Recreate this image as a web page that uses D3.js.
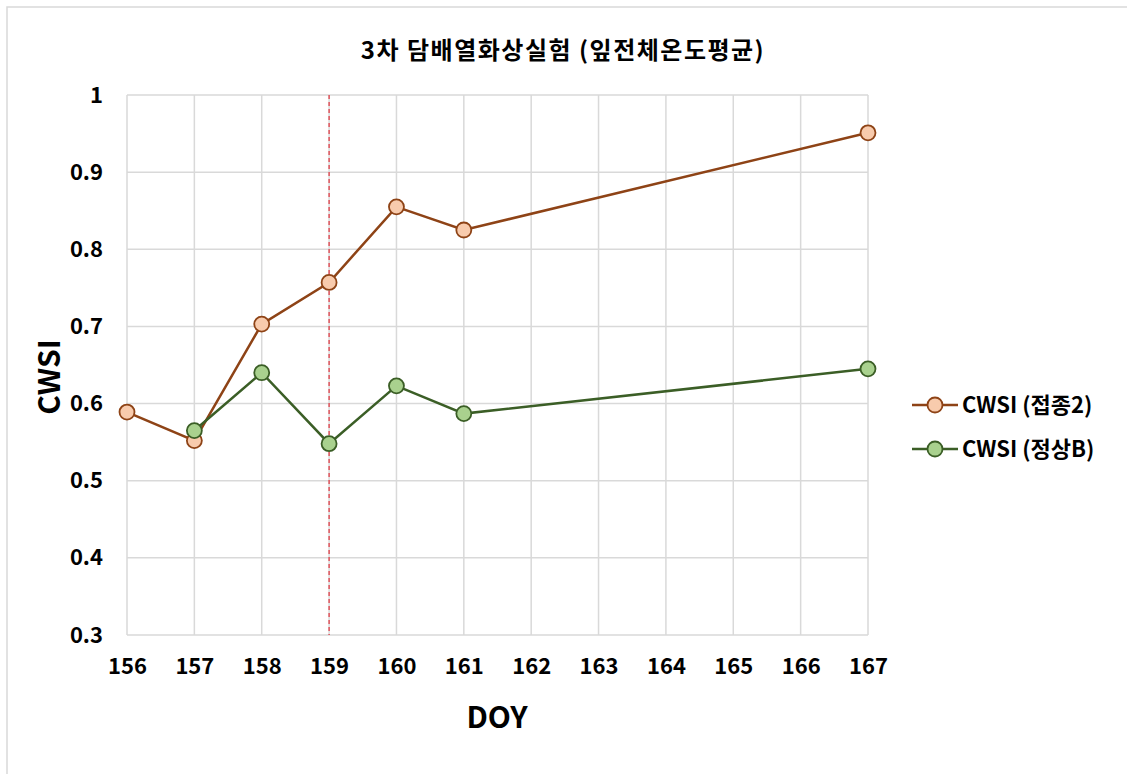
<!DOCTYPE html>
<html>
<head>
<meta charset="utf-8">
<script src="https://cdn.jsdelivr.net/npm/d3@7"></script>
<style>
  body { margin: 0; background: #fff; }
  text { font-family: "Noto Sans CJK KR", "Noto Sans", sans-serif; font-weight: bold; fill: #000; }
</style>
</head>
<body>
<svg id="chart"></svg>
<script>
var days = [156, 157, 158, 159, 160, 161, 162, 163, 164, 165, 166, 167];
var yTicks = [0.3, 0.4, 0.5, 0.6, 0.7, 0.8, 0.9, 1];
var seriesNames = ["CWSI (접종2)", "CWSI (정상B)"];
var infectedDays = [156, 157, 158, 159, 160, 161, 167];
var infectedValues = [0.589, 0.552, 0.703, 0.757, 0.855, 0.825, 0.951];
var normalDays = [157, 158, 159, 160, 161, 167];
var normalValues = [0.565, 0.640, 0.548, 0.623, 0.587, 0.645];
var markerDay = 159;

var width = 1127, height = 774;
var margin = { top: 95, left: 127, bottom: 139, right: 259 };

var svg = d3.select("#chart")
  .attr("width", width)
  .attr("height", height);

// chart frame
svg.append("rect")
  .attr("x", 7).attr("y", 7)
  .attr("width", width + 10).attr("height", height + 10)
  .attr("fill", "none")
  .attr("stroke", "#d9d9d9")
  .attr("stroke-width", 1.5);

var x = d3.scaleLinear()
  .domain([156, 167])
  .range([margin.left, width - margin.right]);
var y = d3.scaleLinear()
  .domain([0.3, 1])
  .range([height - margin.bottom, margin.top]);

// grid
svg.append("g").selectAll("line")
  .data(yTicks)
  .enter().append("line")
  .attr("x1", margin.left).attr("x2", width - margin.right)
  .attr("y1", function (d) { return y(d); })
  .attr("y2", function (d) { return y(d); })
  .attr("stroke", "#d9d9d9").attr("stroke-width", 1.5);

svg.append("g").selectAll("line")
  .data(days)
  .enter().append("line")
  .attr("y1", margin.top).attr("y2", height - margin.bottom)
  .attr("x1", function (d) { return x(d); })
  .attr("x2", function (d) { return x(d); })
  .attr("stroke", "#d9d9d9").attr("stroke-width", 1.5);

// axes labels
var xAxis = d3.axisBottom(x).tickValues(days).tickSize(0).tickPadding(23).tickFormat(d3.format("d"));
var gx = svg.append("g")
  .attr("transform", "translate(0," + (height - margin.bottom) + ")")
  .call(xAxis);
gx.select(".domain").remove();
gx.selectAll("text").style("font-size", "22px");

var yAxis = d3.axisLeft(y).tickValues(yTicks).tickSize(0).tickPadding(24)
  .tickFormat(function (d) { return d === 1 ? "1" : d3.format(".1f")(d); });
var gy = svg.append("g")
  .attr("transform", "translate(" + margin.left + ",0)")
  .call(yAxis);
gy.select(".domain").remove();
gy.selectAll("text").style("font-size", "22px");

// red dashed line
svg.append("line")
  .attr("x1", x(markerDay)).attr("x2", x(markerDay))
  .attr("y1", margin.top).attr("y2", height - margin.bottom)
  .attr("stroke", "#e0303a").attr("stroke-width", 1.2)
  .attr("stroke-dasharray", "4,3");

var series = [
  { name: seriesNames[0], days: infectedDays, values: infectedValues, line: "#8e4316", fill: "#f8cbad", stroke: "#8e4316" },
  { name: seriesNames[1], days: normalDays, values: normalValues, line: "#3b5e26", fill: "#a9d18e", stroke: "#3b5e26" }
];

var line = d3.line()
  .x(function (d) { return x(d[0]); })
  .y(function (d) { return y(d[1]); });

series.forEach(function (s) {
  var pts = d3.zip(s.days, s.values);
  svg.append("path")
    .datum(pts)
    .attr("fill", "none")
    .attr("stroke", s.line)
    .attr("stroke-width", 2.5)
    .attr("d", line);
  svg.append("g").selectAll("circle")
    .data(pts)
    .enter().append("circle")
    .attr("cx", function (d) { return x(d[0]); })
    .attr("cy", function (d) { return y(d[1]); })
    .attr("r", 7.5)
    .attr("fill", s.fill)
    .attr("stroke", s.stroke)
    .attr("stroke-width", 1.8);
});

// title
svg.append("text")
  .attr("x", 563).attr("y", 59)
  .attr("text-anchor", "middle")
  .style("font-size", "24px")
  .style("letter-spacing", "1.5px")
  .text("3차 담배열화상실험 (잎전체온도평균)");

// axis titles
svg.append("text")
  .attr("x", 497).attr("y", 728)
  .attr("text-anchor", "middle")
  .style("font-size", "30px")
  .text("DOY");

svg.append("text")
  .attr("transform", "translate(49,377) rotate(-90)")
  .attr("text-anchor", "middle")
  .attr("dy", "0.35em")
  .style("font-size", "30px")
  .text("CWSI");

// legend
var legend = svg.append("g").selectAll("g")
  .data(series)
  .enter().append("g")
  .attr("transform", function (d, i) { return "translate(912," + (405 + i * 44) + ")"; });
legend.append("line")
  .attr("x1", 0).attr("x2", 46)
  .attr("stroke", function (d) { return d.line; })
  .attr("stroke-width", 2.5);
legend.append("circle")
  .attr("cx", 23).attr("r", 7.5)
  .attr("fill", function (d) { return d.fill; })
  .attr("stroke", function (d) { return d.stroke; })
  .attr("stroke-width", 1.8);
legend.append("text")
  .attr("x", 50).attr("dy", "0.35em")
  .style("font-size", "22px")
  .text(function (d) { return d.name; });
</script>
</body>
</html>
